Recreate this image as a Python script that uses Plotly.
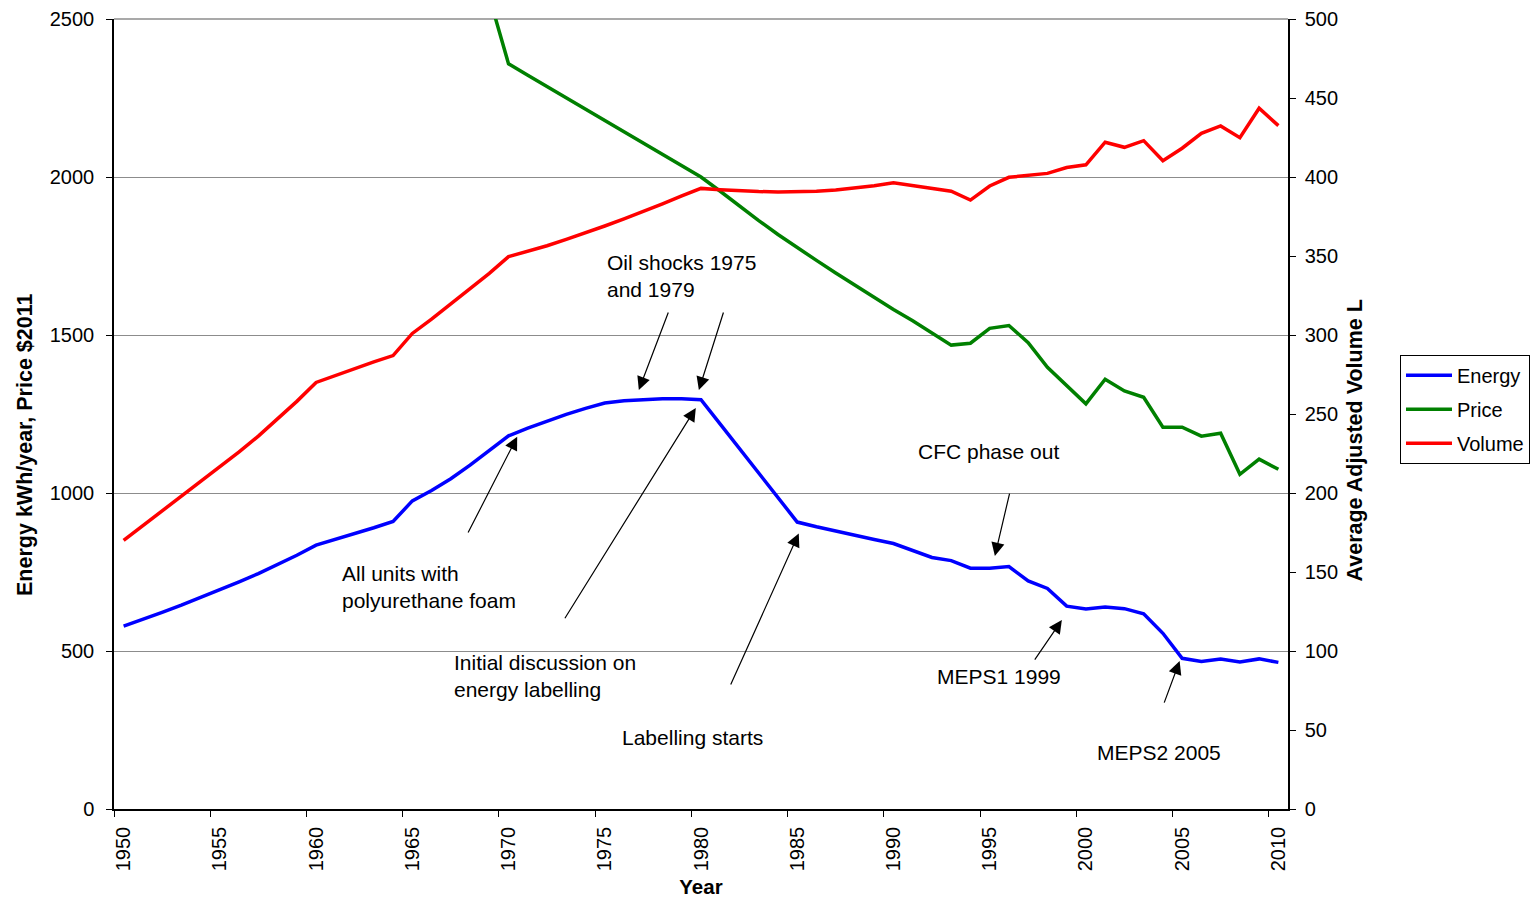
import plotly.graph_objects as go

# ---------------- data ----------------
years = list(range(1950, 2011))

energy = [579, 600, 622, 645, 669, 694, 719, 745, 773, 803,
          835, 853, 871, 890, 910, 975, 1008, 1045, 1088, 1133,
          1181, 1205, 1228, 1249, 1268, 1285, 1292, 1296, 1298, 1298,
          1295, 1218, 1141, 1063, 986, 908, 893, 879, 866, 853,
          840, 818, 796, 786, 762, 762, 767, 722, 698, 642,
          633, 639, 634, 618, 556, 477, 467, 475, 465, 475,
          464]

price = [None] * 19 + [2570,
         2358, 2322, 2286, 2250, 2215, 2179, 2143, 2107, 2071, 2036,
         2000, 1955, 1908, 1862, 1818, 1776, 1736, 1696, 1657, 1619,
         1581, 1545, 1508, 1468, 1474, 1521, 1530, 1476, 1398, 1340,
         1282, 1360, 1323, 1303, 1208, 1208, 1180, 1189, 1059, 1107,
         1075]

volume = [170, 179.3, 188.6, 197.8, 207, 216.5, 226, 236, 247, 258,
          270, 274.5, 278.7, 283, 287, 301, 310, 319.5, 329, 339,
          349.6, 353, 356.5, 360.5, 364.5, 369, 373.5, 378, 383, 388,
          392.8, 392, 391.3, 390.8, 390.5, 390.6, 391, 391.8, 393, 394.5,
          396.4, 394.5, 393, 391, 385.4, 394.3, 399.8, 401.3, 402.3, 406,
          407.7, 422, 418.8, 423, 410.3, 418.2, 427.6, 432.3, 424.9, 443.5,
          432.5]

year_ticks = list(range(1950, 2011, 5))

# annotation texts: (text, x_left, y_mid)
notes = [
    ("Oil shocks 1975<br>and 1979", 1975.0, 1688),
    ("All units with<br>polyurethane foam", 1961.25, 702),
    ("Initial discussion on<br>energy labelling", 1967.06, 421),
    ("Labelling starts", 1975.79, 225),
    ("CFC phase out", 1991.15, 1130),
    ("MEPS1 1999", 1992.15, 418),
    ("MEPS2 2005", 2000.46, 180),
]
# arrows: (head_x, head_y, tail_x, tail_y)
arrows = [
    (1976.77, 1326, 1978.33, 1576),
    (1979.89, 1326, 1981.19, 1576),
    (1970.45, 1178, 1967.86, 870),
    (1979.73, 1269, 1972.88, 599),
    (1985.08, 872, 1981.51, 389),
    (1995.27, 801, 1996.05, 1003),
    (1998.75, 598, 1997.29, 468),
    (2004.87, 468, 2004.04, 332),
]

FONT = "Liberation Sans, Arial, sans-serif"

fig = go.Figure()
fig.add_trace(go.Scatter(x=years, y=energy, name="Energy", mode="lines", legendgroup="e",
                         line=dict(color="#0000FF", width=3.5), yaxis="y"))
fig.add_trace(go.Scatter(x=years, y=price, name="Price", mode="lines", legendgroup="p",
                         line=dict(color="#008000", width=3.5), yaxis="y"))
fig.add_trace(go.Scatter(x=years, y=volume, name="Volume", mode="lines", legendgroup="v",
                         line=dict(color="#FF0000", width=3.5), yaxis="y2"))

annotations = []
for text, x, y in notes:
    annotations.append(dict(text=text, x=x, y=y, xref="x", yref="y",
                            xanchor="left", yanchor="middle", align="left",
                            showarrow=False, font=dict(size=21, color="black")))
for hx, hy, tx, ty in arrows:
    annotations.append(dict(text="", x=hx, y=hy, ax=tx, ay=ty, xref="x", yref="y",
                            axref="x", ayref="y", showarrow=True, arrowhead=2,
                            arrowsize=2.2, arrowwidth=1.2, arrowcolor="black"))
annotations.append(dict(text="<b>Energy kWh/year, Price $2011</b>", x=-0.0758, y=0.4608,
                        xref="paper", yref="paper", textangle=-90, showarrow=False,
                        xanchor="center", yanchor="middle", font=dict(size=21.5, color="black")))
annotations.append(dict(text="<b>Average Adjusted Volume L</b>", x=1.0571, y=0.4665,
                        xref="paper", yref="paper", textangle=-90, showarrow=False,
                        xanchor="center", yanchor="middle", font=dict(size=21.5, color="black")))

fig.update_layout(
    width=1533, height=898,
    margin=dict(l=114, r=245, t=19, b=89, autoexpand=False),
    paper_bgcolor="white", plot_bgcolor="white",
    font=dict(family=FONT, size=20, color="black"),
    showlegend=True,
    legend=dict(x=1.0954, y=0.575, xanchor="left", yanchor="top",
                bordercolor="black", borderwidth=1, bgcolor="white",
                tracegroupgap=5, itemwidth=46, font=dict(size=20)),
    xaxis=dict(range=[1949.5, 2010.5], tickvals=year_ticks, ticktext=[str(y) for y in year_ticks],
               tickangle=-90, ticks="", showgrid=False, zeroline=False, ticklabelstandoff=8,
               showline=True, linecolor="black", linewidth=1.5, automargin=False,
               minor=dict(tick0=1949.5, dtick=5, ticks="outside", ticklen=6,
                          tickcolor="black", showgrid=False),
               title=dict(text="<b>Year</b>", font=dict(size=20.5), standoff=12)),
    yaxis=dict(range=[0, 2500], dtick=500, tick0=0, ticks="outside", ticklen=6,
               tickcolor="black", showgrid=True, gridcolor="#8c8c8c", gridwidth=1.2,
               ticklabelstandoff=8, automargin=False,
               zeroline=False, showline=True, linecolor="black", linewidth=1.5),
    yaxis2=dict(range=[0, 500], dtick=50, tick0=0, overlaying="y", side="right",
                ticks="outside", ticklen=6, tickcolor="black", showgrid=False,
                ticklabelstandoff=5, automargin=False,
                zeroline=False, showline=True, linecolor="black", linewidth=1.5),
    shapes=[dict(type="line", xref="paper", yref="paper", x0=0, x1=1, y0=1, y1=1,
                 line=dict(color="#8c8c8c", width=1.5), layer="below")],
    annotations=annotations,
)

fig.write_html("out.html", config={"displayModeBar": False},
               post_script="document.body.style.margin='0';")
